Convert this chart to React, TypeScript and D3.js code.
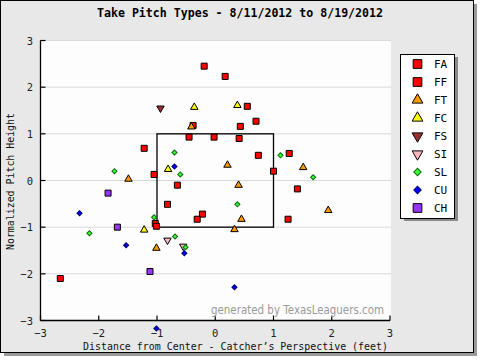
import React from "react";
import * as d3 from "d3";

const title = "Take Pitch Types - 8/11/2012 to 8/19/2012";
const xTitle = "Distance from Center - Catcher\u2019s Perspective (feet)";
const yTitle = "Normalized Pitch Height";
const watermark = "generated by TexasLeaguers.com";

const pitchTypes = ["FA", "FF", "FT", "FC", "FS", "SI", "SL", "CU", "CH"];
const tickValues = [-3, -2, -1, 0, 1, 2, 3];

// [x, y] pitch locations
const FA: [number, number][] = [
  [-0.19, 2.45], [0.17, 2.23], [0.7, 1.27], [-1.22, 0.69], [1.27, 0.58], [-2.66, -2.1],
];
const FF: [number, number][] = [
  [0.55, 1.59], [0.43, 1.16], [-0.38, 1.18], [-0.45, 0.93], [-0.02, 0.93], [0.41, 0.9],
  [0.74, 0.54], [1.0, 0.2], [-1.05, 0.13], [-0.65, -0.1], [1.41, -0.18], [-0.82, -0.51],
  [-0.22, -0.72], [-0.31, -0.83], [1.25, -0.83], [-1.03, -0.92], [-1.01, -0.98],
];
const FT: [number, number][] = [
  [-0.41, 1.15], [-1.49, 0.03], [0.21, 0.33], [1.51, 0.28], [0.4, -0.1],
  [1.94, -0.64], [0.45, -0.83], [0.33, -1.05], [-1.01, -1.45],
];
const FC: [number, number][] = [
  [-0.36, 1.57], [0.38, 1.61], [-0.81, 0.24], [-1.22, -1.06],
];
const FS: [number, number][] = [[-0.94, 1.55]];
const SI: [number, number][] = [[-0.82, -1.28], [-0.55, -1.41]];
const SL: [number, number][] = [
  [-0.7, 0.6], [-0.6, 0.13], [-1.73, 0.2], [1.12, 0.54], [1.68, 0.07],
  [-1.05, -0.79], [-2.16, -1.13], [-0.69, -1.2], [-0.51, -1.43], [0.38, -0.51],
];
const CU: [number, number][] = [
  [-0.7, 0.3], [-2.33, -0.7], [-1.53, -1.39], [-0.53, -1.56], [0.33, -2.29], [-1.01, -3.17],
];
const CH: [number, number][] = [[-1.84, -0.27], [-1.68, -1.0], [-1.12, -1.95]];

const dataByType: Record<string, [number, number][]> = { FA, FF, FT, FC, FS, SI, SL, CU, CH };

type Style = { shape: string; fill: string; stroke: string };
const styles: Record<string, Style> = {
  FA: { shape: "square", fill: "#ff0000", stroke: "#000" },
  FF: { shape: "square", fill: "#ff0000", stroke: "#000" },
  FT: { shape: "tri", fill: "#ff9900", stroke: "#000" },
  FC: { shape: "tri", fill: "#ffff00", stroke: "#000" },
  FS: { shape: "itri", fill: "#993333", stroke: "#000" },
  SI: { shape: "itri", fill: "#ffb6c1", stroke: "#000" },
  SL: { shape: "diamond", fill: "#33ff33", stroke: "#116611" },
  CU: { shape: "diamond", fill: "#0000ff", stroke: "#000066" },
  CH: { shape: "square", fill: "#9933ff", stroke: "#000" },
};

function markerPath(shape: string, scale: number): { d: string; rot: number } {
  if (shape === "square") return { d: d3.symbol().type(d3.symbolSquare).size(36 * scale * scale)() as string, rot: 0 };
  if (shape === "tri") return { d: d3.symbol().type(d3.symbolTriangle).size(24 * scale * scale)() as string, rot: 0 };
  if (shape === "itri") return { d: d3.symbol().type(d3.symbolTriangle).size(24 * scale * scale)() as string, rot: 180 };
  return { d: d3.symbol().type(d3.symbolSquare).size(13 * scale * scale)() as string, rot: 45 };
}

const W = 480;
const H = 360;
const mono = "'DejaVu Sans Mono', 'Liberation Mono', monospace";

export default function App() {
  const x = d3.scaleLinear().domain([-3, 3]).range([40.5, 390]);
  const y = d3.scaleLinear().domain([-3, 3]).range([320.5, 40.5]);

  const legendY = d3.scalePoint().domain(pitchTypes).range([64, 208]);

  return (
    <svg width={W} height={H} style={{ position: "absolute", left: 0, top: 0 }}>
      <rect x={0} y={0} width={W} height={H} fill="#ffffff" />
      {/* shadow */}
      <rect x={4} y={4} width={473} height={352} fill="#9a9a9a" />
      <rect x={0.5} y={0.5} width={473} height={352} fill="#e8e8e8" stroke="#000" strokeWidth={1} />
      {/* plot area */}
      <rect x={x(-3)} y={y(3)} width={x(3) - x(-3) + 1} height={y(-3) - y(3)} fill="#fdfdfd" />
      {tickValues.map((t) => (
        <line key={"g" + t} x1={x(-3)} x2={x(3) + 1} y1={y(t)} y2={y(t)} stroke="#d9d9d9" strokeWidth={1} />
      ))}
      {/* strike zone */}
      <rect x={x(-1)} y={y(1)} width={x(1) - x(-1)} height={y(-1) - y(1)} fill="none" stroke="#000" strokeWidth={1.3} />
      {/* axes */}
      <line x1={x(-3)} x2={x(-3)} y1={y(3)} y2={y(-3)} stroke="#000" strokeWidth={1.3} />
      <line x1={x(-3)} x2={x(3)} y1={y(-3)} y2={y(-3)} stroke="#000" strokeWidth={1.3} />
      {tickValues.map((t) => (
        <g key={"yt" + t}>
          <line x1={x(-3)} x2={x(-3) + 5} y1={y(t)} y2={y(t)} stroke="#000" strokeWidth={1.2} />
          <text x={33} y={y(t) + 4} textAnchor="end" fontFamily={mono} fontSize={10.5} fill="#222">
            {t < 0 ? "\u2212" + Math.abs(t) : String(t)}
          </text>
        </g>
      ))}
      {tickValues.map((t) => (
        <g key={"xt" + t}>
          <line x1={x(t)} x2={x(t)} y1={y(-3)} y2={y(-3) - 5} stroke="#000" strokeWidth={1.2} />
          <text x={x(t)} y={337} textAnchor="middle" fontFamily={mono} fontSize={10.5} fill="#222">
            {t < 0 ? "\u2212" + Math.abs(t) : String(t)}
          </text>
        </g>
      ))}
      <text x={235.5} y={350} textAnchor="middle" fontFamily={mono} fontSize={10} fill="#111" textLength={305} lengthAdjust="spacingAndGlyphs">
        {xTitle}
      </text>
      <text transform={`translate(14,181.5) rotate(-90)`} textAnchor="middle" fontFamily={mono} fontSize={10} fill="#111" textLength={137} lengthAdjust="spacingAndGlyphs">
        {yTitle}
      </text>
      <text x={240} y={17} textAnchor="middle" fontFamily={mono} fontWeight="bold" fontSize={12} fill="#000" textLength={286} lengthAdjust="spacingAndGlyphs">
        {title}
      </text>
      {/* watermark */}
      <text x={297.5} y={314} textAnchor="middle" fontFamily="'DejaVu Sans', Verdana, sans-serif" fontSize={12} fill="#9a9a9a" textLength={173} lengthAdjust="spacingAndGlyphs">
        {watermark}
      </text>
      {/* points */}
      {pitchTypes.map((pt) => {
        const s = styles[pt];
        const m = markerPath(s.shape, 1);
        return (
          <g key={"p" + pt}>
            {dataByType[pt].map((d, i) => (
              <path
                key={i}
                d={m.d}
                transform={`translate(${x(d[0])},${y(d[1])}) rotate(${m.rot})`}
                fill={s.fill}
                stroke={s.stroke}
                strokeWidth={1}
              />
            ))}
          </g>
        );
      })}
      {/* legend */}
      <rect x={404} y={57} width={54} height={164} fill="#8a8a8a" />
      <rect x={400.5} y={54.5} width={54} height={164} fill="#ffffff" stroke="#000" strokeWidth={1} />
      {pitchTypes.map((pt) => {
        const s = styles[pt];
        const m = markerPath(s.shape, 1.45);
        const ly = legendY(pt) as number;
        return (
          <g key={"l" + pt}>
            <path d={m.d} transform={`translate(417.5,${ly}) rotate(${m.rot})`} fill={s.fill} stroke={s.stroke} strokeWidth={1} />
            <text x={434} y={ly + 4} fontFamily={mono} fontSize={11} fill="#000">
              {pt}
            </text>
          </g>
        );
      })}
    </svg>
  );
}
